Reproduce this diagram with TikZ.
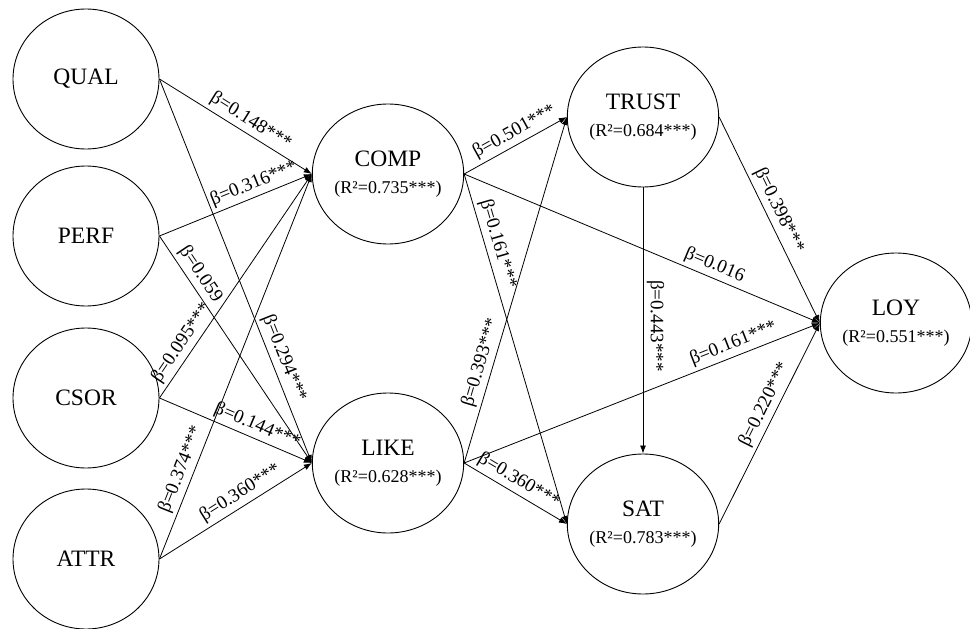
\documentclass[tikz,border=0pt]{standalone}
\usepackage{fontspec}
\setmainfont{Liberation Serif}
\usetikzlibrary{shapes.geometric,arrows.meta}
\newcommand\rsqlabel[1]{{\fontsize{18}{20}\selectfont (R²=#1***)}}
\begin{document}
\begin{tikzpicture}[x=1pt,y=-1pt,
  lv/.style={draw,ellipse,minimum width=146pt,minimum height=140pt,inner sep=0pt,line width=0.9pt,align=center,font=\fontsize{23.5}{27}\selectfont},
  conn/.style={line width=0.8pt,-{Latex[length=8pt,width=6pt]}},
  lab/.style={sloped,above,font=\fontsize{19}{20}\selectfont,inner sep=3.5pt}
]
\useasboundingbox (0,0) rectangle (970,629);
\node[lv] (qual) at (86,79) {QUAL};
\node[lv] (perf) at (86,236) {PERF};
\node[lv] (csor) at (86,398) {CSOR};
\node[lv] (attr) at (86,559) {ATTR};
\node[lv] (comp) at (388,174) {COMP\\\rsqlabel{0.735}};
\node[lv] (like) at (388,463) {LIKE\\\rsqlabel{0.628}};
\node[lv] (trust) at (643,117) {TRUST\\\rsqlabel{0.684}};
\node[lv] (sat) at (643,524) {SAT\\\rsqlabel{0.783}};
\node[lv] (loy) at (896,323) {LOY\\\rsqlabel{0.551}};

\draw[conn] (qual.east) -- node[lab,pos=0.555]{β=0.148***} (comp.west);
\draw[conn] (qual.east) -- node[lab,pos=0.74]{β=0.294***} (like.west);
\draw[conn] (perf.east) -- node[lab,pos=0.65]{β=0.316***} (comp.west);
\draw[conn] (perf.east) -- node[lab,pos=0.2]{β=0.059} (like.west);
\draw[conn] (csor.east) -- node[lab,pos=0.215]{β=0.095***} (comp.west);
\draw[conn] (csor.east) -- node[lab,pos=0.61]{β=0.144***} (like.west);
\draw[conn] (attr.east) -- node[lab,pos=0.22]{β=0.374***} (comp.west);
\draw[conn] (attr.east) -- node[lab,pos=0.575]{β=0.360***} (like.west);
\draw[conn] (comp.east) -- node[lab,pos=0.55]{β=0.501***} (trust.west);
\draw[conn] (comp.east) -- node[lab,pos=0.21]{β=0.161***} (sat.west);
\draw[conn] (like.east) -- node[lab,pos=0.28]{β=0.393***} (trust.west);
\draw[conn] (like.east) -- node[lab,pos=0.47]{β=0.360***} (sat.west);
\draw[conn] (comp.east) -- node[lab,pos=0.69]{β=0.016} (loy.west);
\draw[conn] (like.east) -- node[lab,pos=0.77]{β=0.161***} (loy.west);
\draw[conn] (trust.south) -- node[lab,pos=0.52]{β=0.443***} (sat.north);
\draw[conn] (trust.east) -- node[lab,pos=0.48]{β=0.398***} (loy.west);
\draw[conn] (sat.east) -- node[lab,pos=0.565]{β=0.220***} (loy.west);
\end{tikzpicture}
\end{document}
